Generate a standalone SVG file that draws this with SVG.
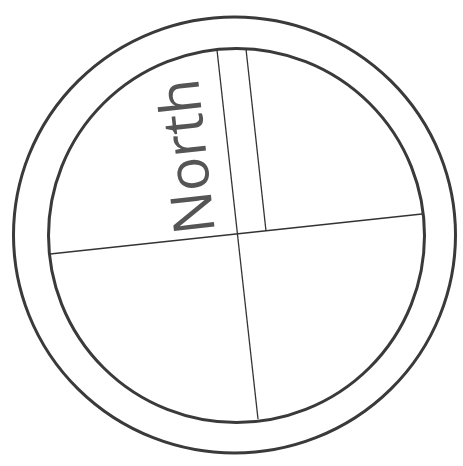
<svg xmlns="http://www.w3.org/2000/svg" width="463" height="466" viewBox="0 0 463 466">
<style>
.ring{fill:none;stroke:#3a3a3a;stroke-width:3}
.ln{fill:none;stroke:#333;stroke-width:1.3}
.lbl{font-family:"Open Sans","Liberation Sans",sans-serif;font-size:57px;fill:#555}
</style>
<rect width="463" height="466" fill="#fff"/>
<g id="outer-ring"><ellipse class="ring" cx="234.5" cy="235" rx="221" ry="218"/></g>
<g id="inner-ring"><ellipse class="ring" cx="236.5" cy="235.5" rx="188" ry="187"/></g>
<g id="connectors">
<line class="ln" x1="50" y1="254" x2="422" y2="214"/>
<line class="ln" x1="217" y1="50" x2="258" y2="419"/>
<line class="ln" x1="246" y1="49" x2="266" y2="231"/>
</g>
<g id="north-label"><text class="lbl" transform="translate(215,232) rotate(-96.3)">North</text></g>
</svg>
